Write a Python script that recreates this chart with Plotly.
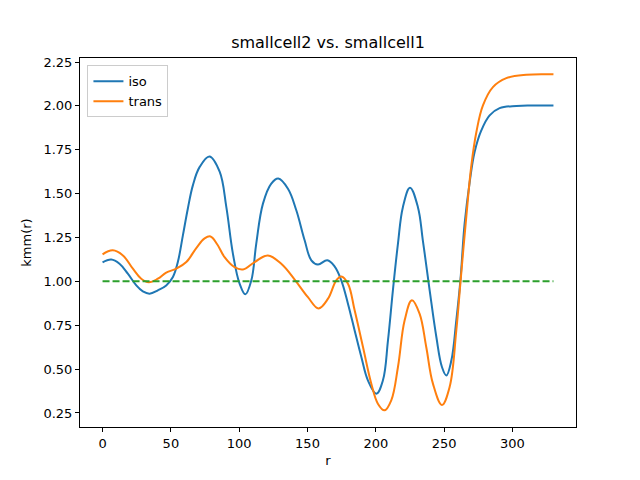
import plotly.graph_objects as go

# iso curve
iso_r = [0, 6.4, 12.4, 18.5, 24.7, 29.5, 34.4, 40.5, 46.6, 51.5, 55.1, 58.8, 62.4, 66.1, 71,
         78.3, 85.7, 90.6, 95.4, 100.3, 104.5, 108.9, 112.5, 117.4, 123.5, 128.6, 135.7,
         141.8, 147.9, 152.8, 157.6, 164.5, 169.8, 174.7, 179.6, 184.5, 189.4, 194.2, 200.4,
         205.2, 208.9, 212.5, 216.2, 219.8, 225, 230.8, 234.4, 239.4, 244.3, 248.4, 251.6,
         255.3, 258.9, 261.9, 265, 268.7, 272.3, 277.2, 283.3, 290.6, 302.9, 315, 330]
iso_k = [1.108, 1.124, 1.10, 1.044, 0.977, 0.943, 0.93, 0.949, 0.977, 1.025, 1.11, 1.262,
         1.414, 1.547, 1.651, 1.712, 1.625, 1.423, 1.158, 0.987, 0.926, 1.006, 1.215, 1.443,
         1.557, 1.586, 1.528, 1.405, 1.234, 1.12, 1.096, 1.12, 1.085, 1.006, 0.873, 0.72,
         0.569, 0.436, 0.36, 0.436, 0.664, 0.949, 1.215, 1.423, 1.534, 1.423, 1.234, 0.949,
         0.683, 0.512, 0.464, 0.55, 0.778, 1.006, 1.33, 1.566, 1.737, 1.86, 1.946, 1.987,
         2.0, 2.002, 2.003]

# trans curve
trans_r = [0, 7.5, 14.9, 22.2, 28.3, 33.9, 40.5, 46.6, 53.9, 61.3, 68.6, 74.7, 79, 84, 89.3,
           96.6, 102.7, 111.3, 121, 130.8, 140.6, 150.3, 158.1, 164.9, 171.1, 174.7, 179.6,
           184.5, 190.6, 196.7, 201.5, 206.4, 211.3, 216.2, 221.1, 226.4, 232, 236.9, 241.8,
           248.4, 254, 258.9, 262, 266.3, 269.9, 273.6, 278.4, 285.7, 295.5, 310.2, 330]
trans_k = [1.154, 1.177, 1.148, 1.072, 1.015, 0.995, 1.015, 1.05, 1.072, 1.11, 1.19, 1.245,
           1.256, 1.21, 1.138, 1.081, 1.068, 1.11, 1.148, 1.10, 1.01, 0.91, 0.846, 0.90, 1.006,
           1.028, 0.987, 0.835, 0.626, 0.417, 0.303, 0.265, 0.322, 0.512, 0.778, 0.892, 0.816,
           0.626, 0.417, 0.296, 0.398, 0.72, 1.0, 1.376, 1.66, 1.851, 2.003, 2.107, 2.158,
           2.178, 2.18]

ref_r = [0, 330]
ref_k = [1.0, 1.0]

fig = go.Figure()
fig.add_trace(go.Scatter(x=iso_r, y=iso_k, mode="lines", name="iso",
                         line=dict(color="#1f77b4", width=2, shape="spline", smoothing=1.1)))
fig.add_trace(go.Scatter(x=trans_r, y=trans_k, mode="lines", name="trans",
                         line=dict(color="#ff7f0e", width=2, shape="spline", smoothing=1.1)))
fig.add_trace(go.Scatter(x=ref_r, y=ref_k, mode="lines", showlegend=False,
                         line=dict(color="#2ca02c", width=2, dash="7px,3px")))

axis_common = dict(showgrid=False, zeroline=False, showline=True, linecolor="black",
                   linewidth=1, mirror=True, ticks="outside", ticklen=4, tickcolor="black",
                   automargin=False, tickfont=dict(size=13, color="black"))
# page body adds an 8px offset, so margins are shifted accordingly
fig.update_layout(
    width=640, height=480,
    margin=dict(l=72, r=72, t=50, b=61),
    paper_bgcolor="white", plot_bgcolor="white",
    font=dict(family="DejaVu Sans", color="black", size=13),
    title=dict(text="smallcell2 vs. smallcell1", x=(72 + 568) / 2 / 640, xanchor="center",
               y=1 - 34 / 480, yanchor="middle", font=dict(size=16)),
    xaxis=dict(range=[-16.5, 346.5], tickmode="array", tickvals=[0, 50, 100, 150, 200, 250, 300],
               title=dict(text="r", standoff=6, font=dict(size=13)), **axis_common),
    yaxis=dict(range=[0.170, 2.273], tickmode="array",
               tickvals=[0.25, 0.5, 0.75, 1.0, 1.25, 1.5, 1.75, 2.0, 2.25],
               ticktext=["0.25", "0.50", "0.75", "1.00", "1.25", "1.50", "1.75", "2.00", "2.25"],
               title=dict(text="kmm(r)", standoff=8, font=dict(size=13)), **axis_common),
    legend=dict(x=0.015, y=0.98, xanchor="left", yanchor="top", bgcolor="rgba(255,255,255,0.8)",
                bordercolor="#cccccc", borderwidth=1, font=dict(size=13), itemwidth=30,
                tracegroupgap=0),
)
fig.write_html("out.html")
